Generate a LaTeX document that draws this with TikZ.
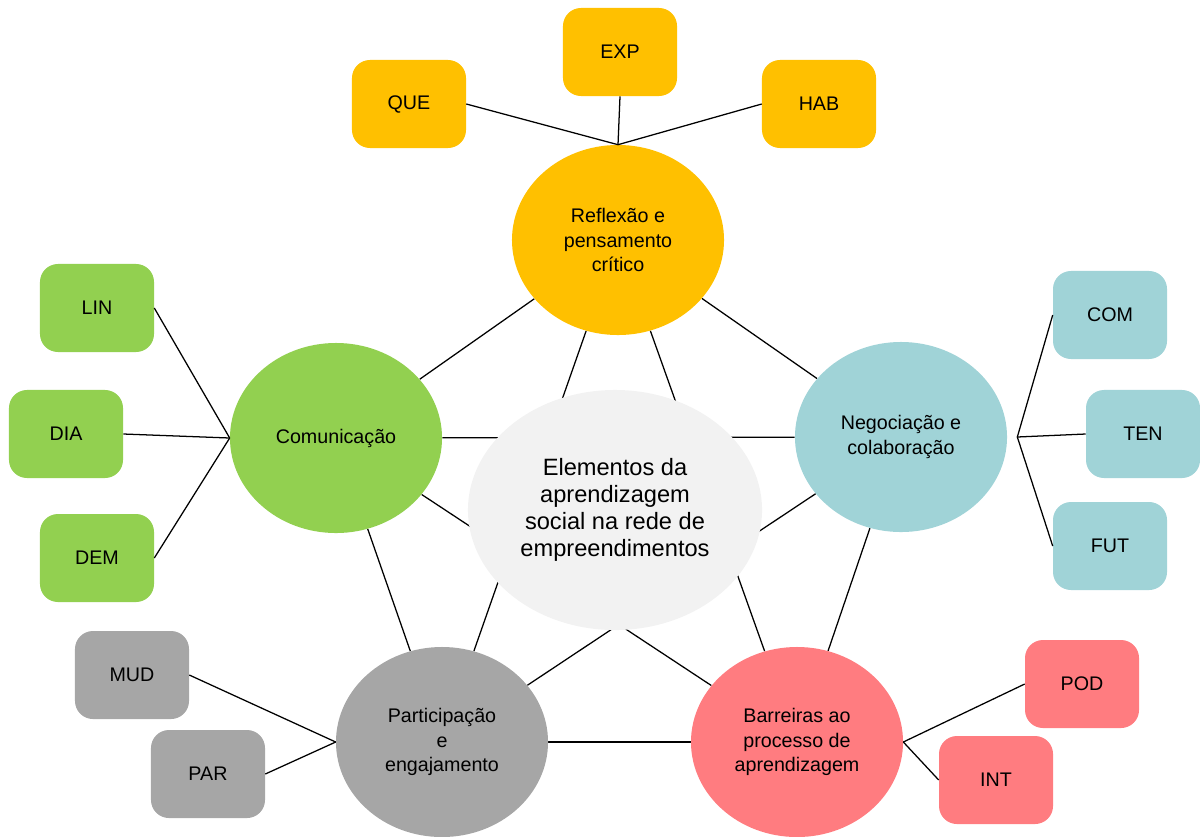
\documentclass[tikz,border=0pt]{standalone}
\usepackage{fontspec}
\setmainfont{Liberation Sans}
\usetikzlibrary{shapes}
\usetikzlibrary{backgrounds}
\definecolor{reflc}{HTML}{FFC000}
\definecolor{commc}{HTML}{92D050}
\definecolor{negoc}{HTML}{A0D3D7}
\definecolor{partc}{HTML}{A6A6A6}
\definecolor{barrc}{HTML}{FF7C80}
\definecolor{centc}{HTML}{F2F2F2}
\tikzstyle{bubble}=[ellipse, inner sep=0pt, minimum width=5.3cm, minimum height=4.75cm, align=center, font=\fontsize{14}{17.2}\selectfont]
\tikzstyle{tag}=[rectangle, rounded corners=0.45cm, minimum width=2.85cm, minimum height=2.2cm, font=\fontsize{14}{16}\selectfont]
\tikzstyle{link}=[line width=0.9pt, black]

\begin{document}
\begin{tikzpicture}[x=0.025cm, y=-0.025cm]
\useasboundingbox (0,0) rectangle (1200,836);
\node[ellipse, fill=centc, minimum width=7.35cm, minimum height=6cm, align=center, font=\fontsize{16.8}{19.3}\selectfont] (cent) at (615,510) {Elementos da\\aprendizagem\\social na rede de\\empreendimentos};
\node[bubble, fill=reflc] (refl) at (618,240) {Reflexão e\\pensamento\\crítico};
\node[bubble, fill=commc] (comm) at (336,438) {Comunicação};
\node[bubble, fill=negoc] (nego) at (901,437) {Negociação e\\colaboração};
\node[bubble, fill=partc] (part) at (442,742) {Participação\\e\\engajamento};
\node[bubble, fill=barrc] (barr) at (797,742) {Barreiras ao\\processo de\\aprendizagem};
\coordinate (negj) at ([xshift=0.25cm]nego.east);
\foreach \n/\x/\y/\t/\c in {que/409/104/QUE/reflc, exp/620/52/EXP/reflc, hab/819/104/HAB/reflc,
  lin/97/308/LIN/commc, dia/66/434/DIA/commc, dem/97/558/DEM/commc,
  com/1110/315/COM/negoc, ten/1143/434/TEN/negoc, fut/1110/546/FUT/negoc,
  mud/132/675/MUD/partc, par/208/774/PAR/partc,
  pod/1082/684/POD/barrc, int/996/780/INT/barrc} {
 \node[tag, fill=\c] (\n) at (\x,\y) {\t};
}
\foreach \n/\a/\h in {que/east/refl.north, exp/south/refl.north, hab/west/refl.north,
  lin/east/comm.west, dia/east/comm.west, dem/east/comm.west,
  com/west/negj, ten/west/negj, fut/west/negj,
  mud/east/part.west, par/east/part.west,
  pod/west/barr.east, int/west/barr.east} {
 \draw[link] (\n.\a) -- (\h);
}
\begin{scope}[on background layer]
\foreach \a/\b in {refl/comm, refl/nego, comm/part, nego/barr, part/barr,
  refl/part, refl/barr, comm/nego, comm/barr, nego/part} {
 \draw[link] (\a) -- (\b);
}
\end{scope}
\end{tikzpicture}
\end{document}
